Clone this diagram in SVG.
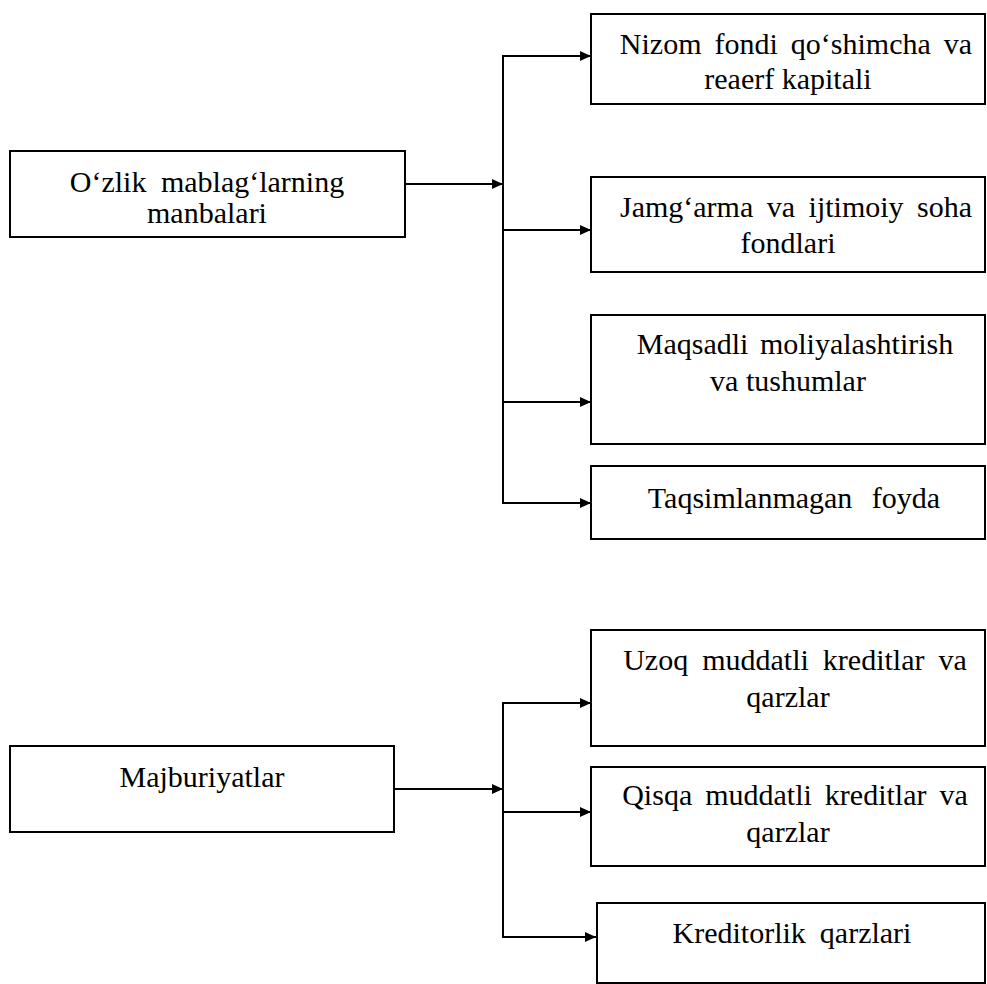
<svg xmlns="http://www.w3.org/2000/svg" width="987" height="984" viewBox="0 0 987 984">
<defs>
<marker id="ah" markerWidth="12" markerHeight="12" refX="11" refY="6" orient="auto" markerUnits="userSpaceOnUse">
<path d="M0,1 L11,6 L0,11 Z" fill="#000"/>
</marker>
<style>
.box{fill:#fff;stroke:#000;stroke-width:2}
.ln{fill:none;stroke:#000;stroke-width:2}
.ar{fill:none;stroke:#000;stroke-width:2;marker-end:url(#ah)}
</style>
</defs>
<rect width="987" height="984" fill="#fff"/>
<g id="connectors">
<line class="ar" x1="405" y1="184" x2="503" y2="184"/>
<line class="ln" x1="503" y1="55" x2="503" y2="504"/>
<line class="ar" x1="502" y1="56" x2="591" y2="56"/>
<line class="ar" x1="502" y1="230" x2="591" y2="230"/>
<line class="ar" x1="502" y1="402" x2="591" y2="402"/>
<line class="ar" x1="502" y1="503" x2="591" y2="503"/>
<line class="ar" x1="394" y1="789" x2="503" y2="789"/>
<line class="ln" x1="503" y1="702" x2="503" y2="938"/>
<line class="ar" x1="502" y1="703" x2="591" y2="703"/>
<line class="ar" x1="502" y1="812" x2="591" y2="812"/>
<line class="ar" x1="502" y1="937" x2="596" y2="937"/>
</g>
<g font-family="'Liberation Serif', 'Times New Roman', serif" font-size="30" fill="#000" text-anchor="middle">
<g id="n-ozlik">
<rect class="box" x="10" y="151" width="395" height="86"/>
<text x="207" y="192" word-spacing="7">O‘zlik mablag‘larning</text>
<text x="207" y="223">manbalari</text>
</g>
<g id="n-nizom">
<rect class="box" x="591" y="14" width="394" height="90"/>
<text x="796" y="54" word-spacing="5.5">Nizom fondi qo‘shimcha va</text>
<text x="788" y="89">reaerf kapitali</text>
</g>
<g id="n-jamgarma">
<rect class="box" x="591" y="177" width="394" height="95"/>
<text x="796" y="217" word-spacing="6">Jamg‘arma va ijtimoiy soha</text>
<text x="788" y="253">fondlari</text>
</g>
<g id="n-maqsadli">
<rect class="box" x="591" y="315" width="394" height="129"/>
<text x="795" y="354" word-spacing="4">Maqsadli moliyalashtirish</text>
<text x="788" y="391">va tushumlar</text>
</g>
<g id="n-taqsim">
<rect class="box" x="591" y="466" width="394" height="73"/>
<text x="794" y="508" word-spacing="12">Taqsimlanmagan foyda</text>
</g>
<g id="n-majburiyat">
<rect class="box" x="10" y="746" width="384" height="86"/>
<text x="202" y="787">Majburiyatlar</text>
</g>
<g id="n-uzoq">
<rect class="box" x="591" y="630" width="394" height="116"/>
<text x="795" y="670" word-spacing="6.5">Uzoq muddatli kreditlar va</text>
<text x="788" y="707">qarzlar</text>
</g>
<g id="n-qisqa">
<rect class="box" x="591" y="767" width="394" height="99"/>
<text x="795" y="805" word-spacing="5.5">Qisqa muddatli kreditlar va</text>
<text x="788" y="842">qarzlar</text>
</g>
<g id="n-kreditorlik">
<rect class="box" x="597" y="903" width="388" height="80"/>
<text x="792" y="943" word-spacing="6.5">Kreditorlik qarzlari</text>
</g>
</g>
</svg>
